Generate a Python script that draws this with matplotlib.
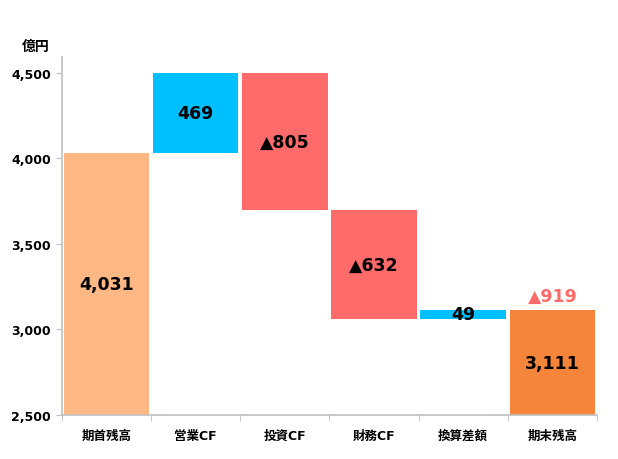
import matplotlib
matplotlib.use("Agg")
import matplotlib.pyplot as plt
import numpy as np

plt.rcParams['font.family'] = ['DejaVu Sans', 'Noto Sans CJK JP']
plt.rcParams['font.weight'] = 'bold'

categories = ["期首残高", "営業CF", "投資CF", "財務CF", "換算差額", "期末残高"]
values = [4031, 469, -805, -632, 49, 3111]
labels = ["4,031", "469", "▲805", "▲632", "49", "3,111"]
colors = ["#FFB784", "#00BFFF", "#FF6B6B", "#FF6B6B", "#00BFFF", "#F5853A"]
total_change = "▲919"
base = 2500

# waterfall bottoms/tops
bottoms = []
tops = []
level = values[0]
bottoms.append(base)
tops.append(values[0])
for v in values[1:-1]:
    new = level + v
    bottoms.append(min(level, new))
    tops.append(max(level, new))
    level = new
bottoms.append(base)
tops.append(values[-1])
bottoms = np.array(bottoms)
tops = np.array(tops)

fig = plt.figure(figsize=(6.18, 4.6), dpi=100)
ax = fig.add_axes([0.100, 0.0957, 0.866, 0.778])

x = np.arange(len(categories))
ax.bar(x, tops - bottoms, bottom=bottoms, width=0.96, color=colors)

for i in range(len(categories)):
    ax.text(x[i], (tops[i] + bottoms[i]) / 2, labels[i], ha='center', va='center',
            fontsize=12.5, fontweight='bold', color='black')

ax.text(x[-1], tops[-1] + 30, total_change, ha='center', va='bottom',
        fontsize=12.5, fontweight='bold', color="#FF6B6B")

ax.set_xlim(-0.5, len(categories) - 0.5)
ax.set_ylim(base, 4590)
ax.set_yticks([2500, 3000, 3500, 4000, 4500])
ax.set_yticklabels(["2,500", "3,000", "3,500", "4,000", "4,500"], fontsize=9, fontweight='bold')

ax.set_xticks(x)
ax.set_xticklabels(categories, fontsize=9, fontweight='bold')
ax.tick_params(axis='x', length=0, pad=10)
ax.set_xticks(np.arange(len(categories) + 1) - 0.5, minor=True)
ax.tick_params(axis='x', which='minor', length=4, color='#BFBFBF', direction='out')
ax.tick_params(axis='y', length=4, color='#BFBFBF', pad=4)

for s in ['top', 'right']:
    ax.spines[s].set_visible(False)
for s in ['left', 'bottom']:
    ax.spines[s].set_color('#BFBFBF')
    ax.spines[s].set_linewidth(1.2)

fig.text(0.057, 0.898, "億円", ha='center', va='center', fontsize=10, fontweight='bold',
         family=['Noto Sans CJK JP'])

fig.savefig("out.png", dpi=100)
